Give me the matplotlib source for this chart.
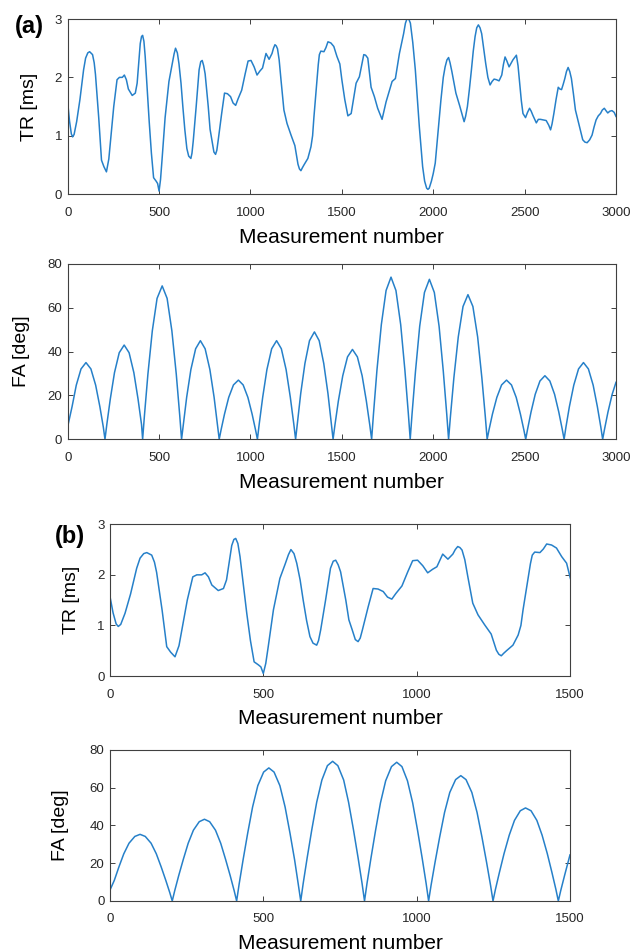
import matplotlib
matplotlib.use('Agg')
import matplotlib.pyplot as plt

plt.rcParams['font.family'] = ['Liberation Sans', 'DejaVu Sans']

# TR curve (ms) vs measurement number (panel (b) shows the first 1500)
tr_x = [0, 10, 20, 27, 35, 49, 67, 87, 98, 110,
        120, 136, 145, 152, 170, 185, 198, 212, 225, 237,
        252, 270, 283, 299, 310, 321, 332, 353, 370, 380,
        390, 397, 404, 410, 417, 424, 435, 446, 458, 470,
        484, 492, 500, 508, 516, 533, 554, 571, 582, 590,
        600, 609, 620, 630, 641, 652, 662, 674, 680, 687,
        703, 719, 728, 736, 744, 752, 769, 779, 790, 800,
        809, 816, 823, 842, 858, 874, 891, 905, 919, 932,
        952, 971, 987, 1003, 1020, 1036, 1052, 1066, 1085, 1102,
        1118, 1126, 1134, 1141, 1148, 1157, 1167, 1183, 1200, 1222,
        1243, 1260, 1268, 1276, 1284, 1293, 1314, 1331, 1340, 1347,
        1356, 1364, 1371, 1377, 1385, 1402, 1413, 1424, 1440, 1456,
        1473, 1489, 1500, 1516, 1533, 1551, 1565, 1578, 1596, 1608,
        1620, 1630, 1642, 1660, 1678, 1696, 1720, 1742, 1775, 1793,
        1815, 1838, 1848, 1856, 1866, 1875, 1888, 1902, 1913, 1924,
        1942, 1953, 1964, 1971, 1978, 1990, 2000, 2011, 2026, 2042,
        2055, 2065, 2075, 2084, 2092, 2102, 2124, 2145, 2159, 2169,
        2177, 2187, 2198, 2209, 2219, 2229, 2238, 2247, 2256, 2265,
        2276, 2287, 2299, 2311, 2322, 2333, 2346, 2360, 2375, 2384,
        2393, 2403, 2415, 2436, 2455, 2464, 2473, 2482, 2491, 2505,
        2516, 2527, 2536, 2545, 2564, 2575, 2587, 2603, 2618, 2632,
        2642, 2650, 2660, 2672, 2684, 2693, 2702, 2711, 2720, 2729,
        2738, 2747, 2756, 2767, 2778, 2796, 2818, 2830, 2842, 2856,
        2869, 2880, 2891, 2903, 2915, 2925, 2936, 2945, 2955, 2966,
        2978, 2990, 3000]
tr_y = [1.57, 1.25, 1.03, 0.98, 1.02, 1.24, 1.62, 2.13, 2.33, 2.42,
        2.44, 2.39, 2.25, 2.05, 1.30, 0.58, 0.47, 0.38, 0.60, 1.00,
        1.50, 1.96, 2.00, 2.00, 2.04, 1.96, 1.80, 1.69, 1.73, 1.90,
        2.30, 2.58, 2.70, 2.72, 2.62, 2.36, 1.80, 1.24, 0.70, 0.28,
        0.22, 0.18, 0.05, 0.25, 0.58, 1.31, 1.93, 2.21, 2.40, 2.50,
        2.42, 2.23, 1.90, 1.50, 1.10, 0.78, 0.65, 0.61, 0.70, 0.91,
        1.50, 2.13, 2.27, 2.29, 2.20, 2.06, 1.50, 1.11, 0.91, 0.72,
        0.68, 0.75, 0.91, 1.37, 1.73, 1.72, 1.67, 1.56, 1.52, 1.63,
        1.78, 2.06, 2.28, 2.29, 2.18, 2.04, 2.11, 2.16, 2.41, 2.31,
        2.41, 2.50, 2.56, 2.54, 2.49, 2.30, 1.96, 1.44, 1.21, 1.01,
        0.83, 0.51, 0.43, 0.40, 0.45, 0.50, 0.61, 0.81, 1.00, 1.31,
        1.65, 1.96, 2.22, 2.39, 2.45, 2.44, 2.51, 2.61, 2.59, 2.53,
        2.36, 2.23, 1.96, 1.62, 1.34, 1.38, 1.65, 1.90, 2.01, 2.20,
        2.39, 2.38, 2.33, 1.83, 1.67, 1.47, 1.28, 1.58, 1.93, 1.98,
        2.41, 2.75, 2.93, 3.00, 3.00, 2.93, 2.60, 2.13, 1.65, 1.15,
        0.47, 0.22, 0.10, 0.08, 0.10, 0.22, 0.35, 0.53, 1.05, 1.61,
        2.00, 2.18, 2.30, 2.34, 2.25, 2.10, 1.73, 1.51, 1.35, 1.24,
        1.33, 1.50, 1.80, 2.13, 2.45, 2.70, 2.85, 2.90, 2.85, 2.75,
        2.50, 2.24, 2.00, 1.87, 1.93, 1.97, 1.96, 1.94, 2.04, 2.22,
        2.35, 2.28, 2.18, 2.30, 2.38, 2.20, 1.90, 1.60, 1.38, 1.31,
        1.40, 1.47, 1.42, 1.35, 1.22, 1.28, 1.28, 1.27, 1.26, 1.18,
        1.10, 1.20, 1.38, 1.62, 1.83, 1.80, 1.79, 1.88, 1.98, 2.10,
        2.17, 2.10, 1.98, 1.72, 1.44, 1.21, 0.93, 0.89, 0.88, 0.93,
        1.01, 1.15, 1.27, 1.34, 1.38, 1.44, 1.47, 1.43, 1.39, 1.42,
        1.43, 1.40, 1.33]

# FA curve (deg), panel (a)
fa_a_x = [0, 24, 47, 73, 100, 127, 153, 176, 195, 204,
          214, 233, 256, 282, 309, 336, 362, 385, 404, 410,
          420, 439, 463, 489, 517, 544, 570, 594, 613, 623,
          633, 651, 674, 700, 726, 752, 778, 801, 819, 829,
          839, 858, 881, 907, 934, 960, 986, 1009, 1028, 1038,
          1048, 1067, 1090, 1116, 1143, 1169, 1195, 1218, 1237, 1247,
          1257, 1275, 1298, 1323, 1350, 1376, 1401, 1424, 1442, 1452,
          1462, 1481, 1505, 1531, 1558, 1585, 1611, 1634, 1653, 1663,
          1673, 1692, 1716, 1742, 1769, 1796, 1822, 1845, 1864, 1874,
          1884, 1903, 1926, 1952, 1979, 2006, 2032, 2055, 2074, 2084,
          2094, 2113, 2137, 2163, 2190, 2217, 2243, 2266, 2285, 2295,
          2305, 2324, 2348, 2374, 2401, 2428, 2454, 2477, 2496, 2506,
          2516, 2535, 2558, 2584, 2611, 2638, 2664, 2687, 2706, 2716,
          2726, 2745, 2769, 2795, 2822, 2849, 2875, 2898, 2917, 2927,
          2937, 2956, 2979, 3000]
fa_a_y = [5.8, 14.9, 24.7, 32.1, 35.0, 32.1, 24.7, 14.9, 5.5, 0,
          6.7, 18.3, 30.4, 39.5, 43.0, 39.5, 30.4, 18.3, 6.7, 0,
          10.9, 29.8, 49.5, 64.3, 70.0, 64.3, 49.5, 29.8, 10.9, 0,
          7.0, 19.2, 31.8, 41.3, 45.0, 41.3, 31.8, 19.2, 7.0, 0,
          4.2, 11.5, 19.1, 24.8, 27.0, 24.8, 19.1, 11.5, 4.2, 0,
          7.0, 19.2, 31.8, 41.3, 45.0, 41.3, 31.8, 19.2, 7.0, 0,
          7.6, 20.9, 34.6, 45.0, 49.0, 45.0, 34.6, 20.9, 7.6, 0,
          6.4, 17.5, 29.0, 37.6, 41.0, 37.6, 29.0, 17.5, 6.4, 0,
          11.5, 31.5, 52.3, 67.9, 74.0, 67.9, 52.3, 31.5, 11.5, 0,
          11.4, 31.1, 51.6, 67.0, 73.0, 67.0, 51.6, 31.1, 11.4, 0,
          10.3, 28.1, 46.7, 60.6, 66.0, 60.6, 46.7, 28.1, 10.3, 0,
          4.2, 11.5, 19.1, 24.8, 27.0, 24.8, 19.1, 11.5, 4.2, 0,
          4.5, 12.4, 20.5, 26.6, 29.0, 26.6, 20.5, 12.4, 4.5, 0,
          5.5, 14.9, 24.7, 32.1, 35.0, 32.1, 24.7, 14.9, 5.5, 0,
          4.5, 12.4, 20.5, 26.0]

# FA curve (deg), panel (b)
fa_b_x = [0, 14, 29, 45, 62, 81, 98, 115, 134, 151, 167, 182, 195, 203,
          211, 224, 239, 255, 272, 291, 308, 325, 344, 361, 377, 392, 405, 413,
          421, 434, 449, 465, 482, 501, 518, 535, 554, 571, 587, 602, 614, 622,
          630, 643, 658, 674, 691, 709, 726, 743, 762, 778, 794, 809, 822, 830,
          838, 851, 866, 882, 899, 918, 935, 952, 970, 987, 1003, 1018, 1031, 1039,
          1047, 1060, 1075, 1091, 1108, 1127, 1144, 1161, 1180, 1197, 1213, 1228, 1241, 1249,
          1257, 1270, 1285, 1302, 1319, 1338, 1355, 1373, 1392, 1409, 1426, 1441, 1454, 1462,
          1470, 1483, 1500]
fa_b_y = [5.8, 10.9, 18.0, 25.0, 30.6, 34.2, 35.3, 34.2, 30.6, 25.0, 18.0, 10.9, 4.4, 0,
          5.4, 13.4, 22.0, 30.6, 37.5, 42.0, 43.3, 42.0, 37.5, 30.6, 22.0, 13.4, 5.4, 0,
          8.8, 21.8, 35.9, 49.8, 61.1, 68.3, 70.5, 68.3, 61.1, 49.8, 35.9, 21.8, 8.8, 0,
          9.3, 22.9, 37.7, 52.3, 64.1, 71.7, 74.0, 71.7, 64.1, 52.3, 37.7, 22.9, 9.3, 0,
          9.2, 22.7, 37.4, 52.0, 63.7, 71.2, 73.5, 71.2, 63.7, 52.0, 37.4, 22.7, 9.2, 0,
          8.3, 20.5, 33.8, 46.9, 57.5, 64.3, 66.4, 64.3, 57.5, 46.9, 33.8, 20.5, 8.3, 0,
          6.2, 15.2, 25.1, 34.9, 42.7, 47.8, 49.3, 47.8, 42.7, 34.9, 25.1, 15.2, 6.2, 0,
          5.6, 13.9, 24.4]

line_color = '#2680c9'
edge_color = '#404040'
text_color = '#262626'

fig = plt.figure(figsize=(6.41, 9.52), dpi=100)

panels = [
    # rect, x, y, xmax, ymax, yticks, ylabel, ylabel x, xlabel y
    ([0.1056, 0.7962, 0.8554, 0.1838], tr_x, tr_y, 3000, 3, [0, 1, 2, 3], 'TR [ms]', -0.069, -0.280),
    ([0.1056, 0.5386, 0.8554, 0.1841], fa_a_x, fa_a_y, 3000, 80, [0, 20, 40, 60, 80], 'FA [deg]', -0.084, -0.280),
    ([0.1716, 0.2899, 0.7176, 0.1594], tr_x, tr_y, 1500, 3, [0, 1, 2, 3], 'TR [ms]', -0.084, -0.318),
    ([0.1716, 0.0536, 0.7176, 0.1586], fa_b_x, fa_b_y, 1500, 80, [0, 20, 40, 60, 80], 'FA [deg]', -0.107, -0.318),
]

for rect, xs, ys, xmax, ymax, yt, ylab, ylx, xly in panels:
    ax = fig.add_axes(rect)
    ax.plot(xs, ys, color=line_color, lw=1.1)
    ax.set_xlim(0, xmax)
    ax.set_ylim(0, ymax)
    ax.set_xticks(list(range(0, xmax + 1, 500)))
    ax.set_yticks(yt)
    ax.tick_params(direction='in', top=True, right=True, length=3.5, width=0.7,
                   color=edge_color, labelcolor=text_color, labelsize=9.5)
    ax.tick_params(axis='x', pad=9)
    ax.tick_params(axis='y', pad=4)
    for s in ax.spines.values():
        s.set_color(edge_color)
        s.set_linewidth(0.8)
    ax.set_xlabel('Measurement number', fontsize=15, color='black')
    ax.xaxis.label.set_va('baseline')
    ax.xaxis.set_label_coords(0.5, xly)
    ax.set_ylabel(ylab, fontsize=14, color='black')
    ax.yaxis.label.set_va('center')
    ax.yaxis.set_label_coords(ylx, 0.5)

fig.text(29 / 641, 1 - 26 / 952, '(a)', fontsize=17, fontweight='bold', ha='center', va='center')
fig.text(69.5 / 641, 1 - 536 / 952, '(b)', fontsize=17, fontweight='bold', ha='center', va='center')

fig.savefig('out.png', dpi=100)
